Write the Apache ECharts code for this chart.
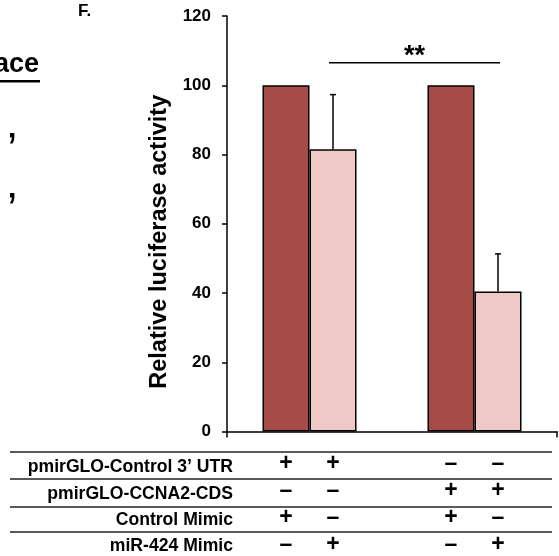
<!DOCTYPE html>
<html><head><meta charset="utf-8">
<script src="https://cdn.jsdelivr.net/npm/echarts@6/dist/echarts.min.js"></script>
<style>html,body{margin:0;padding:0;background:#fff}#c{width:559px;height:556px}</style>
</head><body><div id="c"></div>
<script>
const categories = ['pmirGLO-Control 3’ UTR', 'pmirGLO-CCNA2-CDS'];
const controlMimicValues = [100, 100];
const mir424Values = [81.5, 40.4];
const mir424ErrorUpper = [15.8, 10.9];
const yMin = 0, yMax = 120, yInterval = 20;
const significanceLevel = 106.5;
const significanceLabel = '**';
const tableRows = ['pmirGLO-Control 3’ UTR', 'pmirGLO-CCNA2-CDS', 'Control Mimic', 'miR-424 Mimic'];
const tableSigns = [
  ['+', '+', '–', '–'],
  ['–', '–', '+', '+'],
  ['+', '–', '+', '–'],
  ['–', '+', '–', '+']
];

const FONT = '"Liberation Sans", Arial, sans-serif';
const BAR_W = 47;
const DARK = '#A64B47';
const LIGHT = '#EFC8C8';

const chart = echarts.init(document.getElementById('c'));

const option = {
  animation: false,
  backgroundColor: '#fff',
  grid: { left: 227, right: 2, top: 16, bottom: 124.5 },
  xAxis: {
    type: 'category',
    data: categories,
    axisLine: { lineStyle: { color: '#000', width: 1.5 } },
    axisTick: { show: true, length: 6, lineStyle: { color: '#000', width: 1.5 } },
    axisLabel: { show: false }
  },
  yAxis: {
    type: 'value',
    min: yMin, max: yMax, interval: yInterval,
    name: 'Relative luciferase activity',
    nameLocation: 'middle',
    nameGap: 46,
    nameTextStyle: { fontFamily: FONT, fontWeight: 'bold', fontSize: 23.5, color: '#000', padding: [0, 36, 0, 0] },
    axisLine: { show: true, lineStyle: { color: '#000', width: 1.5 } },
    axisTick: { show: true, length: 5, lineStyle: { color: '#000', width: 1.5 } },
    axisLabel: { fontFamily: FONT, fontWeight: 'bold', fontSize: 17, color: '#000', margin: 16 },
    splitLine: { show: false }
  },
  series: [
    {
      type: 'bar', name: 'Control Mimic', data: controlMimicValues,
      barWidth: BAR_W, barGap: '0%',
      itemStyle: { color: DARK, borderColor: '#000', borderWidth: 1.5 }
    },
    {
      type: 'bar', name: 'miR-424 Mimic', data: mir424Values,
      barWidth: BAR_W, barGap: '0%',
      itemStyle: { color: LIGHT, borderColor: '#000', borderWidth: 1.5 }
    },
    {
      type: 'custom', name: 'error',
      data: mir424Values.map((v, i) => [i, v, mir424ErrorUpper[i]]),
      z: 5,
      renderItem: function (params, api) {
        const base = api.coord([api.value(0), api.value(1)]);
        const top = api.coord([api.value(0), api.value(1) + api.value(2)]);
        const cx = base[0] + BAR_W / 2;
        const style = { stroke: '#000', lineWidth: 1.5 };
        return {
          type: 'group',
          children: [
            { type: 'line', shape: { x1: cx, y1: base[1], x2: cx, y2: top[1] }, style: style },
            { type: 'line', shape: { x1: cx - 3, y1: top[1], x2: cx + 3, y2: top[1] }, style: style }
          ]
        };
      }
    }
  ]
};
chart.setOption(option);

// annotations positioned via the chart's scales
const graphics = [];
const c0 = chart.convertToPixel({ xAxisIndex: 0 }, 0);
const c1 = chart.convertToPixel({ xAxisIndex: 0 }, 1);
const sigY = chart.convertToPixel({ yAxisIndex: 0 }, significanceLevel);
const x1 = c0 + BAR_W / 2 - 4, x2 = c1 + BAR_W / 2 + 2;
graphics.push({ type: 'line', shape: { x1: x1, y1: sigY, x2: x2, y2: sigY }, style: { stroke: '#000', lineWidth: 1.5 } });
graphics.push({ type: 'text', x: (x1 + x2) / 2, y: sigY + 7, style: { text: significanceLabel, font: 'bold 27px ' + FONT, fill: '#000', textAlign: 'center', textVerticalAlign: 'bottom' } });

// table under the chart
const colX = [c0 - BAR_W / 2, c0 + BAR_W / 2, c1 - BAR_W / 2, c1 + BAR_W / 2];
const lineYs = [452, 479, 507, 532];
const textYs = [467, 494, 520, 546];
const signYs = [464, 491, 518, 545];
lineYs.forEach(y => graphics.push({ type: 'line', shape: { x1: 10, y1: y, x2: 552, y2: y }, style: { stroke: '#222', lineWidth: 1.5 } }));
tableRows.forEach((t, r) => {
  graphics.push({ type: 'text', x: 233, y: textYs[r], style: { text: t, font: 'bold 17.6px ' + FONT, fill: '#000', textAlign: 'right', textVerticalAlign: 'middle' } });
  tableSigns[r].forEach((s, k) => {
    graphics.push({ type: 'text', x: colX[k], y: signYs[r], style: { text: s, font: 'bold 23px ' + FONT, fill: '#000', textAlign: 'center', textVerticalAlign: 'middle' } });
  });
});

// fragments at the left edge of the figure
graphics.push({ type: 'text', x: 78, y: 11, style: { text: 'F.', font: 'bold 17px ' + FONT, fill: '#000', textAlign: 'left', textVerticalAlign: 'middle' } });
graphics.push({ type: 'text', x: 39, y: 65, style: { text: 'ace', font: 'bold 27px ' + FONT, fill: '#000', textAlign: 'right', textVerticalAlign: 'middle' } });
graphics.push({ type: 'rect', shape: { x: 0, y: 80, width: 40, height: 2.5 }, style: { fill: '#000' } });
graphics.push({ type: 'text', x: 12, y: 152, style: { text: '’', font: '46px ' + FONT, fill: '#000', textAlign: 'center', textVerticalAlign: 'middle' } });
graphics.push({ type: 'text', x: 12, y: 212, style: { text: '’', font: '46px ' + FONT, fill: '#000', textAlign: 'center', textVerticalAlign: 'middle' } });

chart.setOption({ graphic: graphics });
</script>
</body></html>
